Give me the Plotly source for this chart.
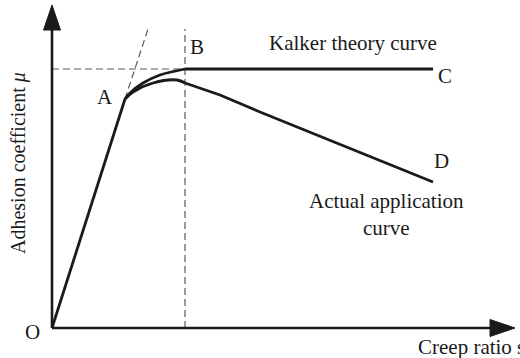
import plotly.graph_objects as go

# Schematic data (arbitrary units: creep ratio s, adhesion coefficient mu)
oa_s = [0.0, 0.73]
oa_mu = [0.0, 2.29]

kalker_curve_s = [0.73, 0.78, 0.91, 1.08, 1.33]
kalker_curve_mu = [2.29, 2.35, 2.45, 2.53, 2.59]
kalker_flat_s = [1.33, 3.81]
kalker_flat_mu = [2.59, 2.59]

actual_curve_s = [0.73, 0.81, 1.01, 1.25, 1.33]
actual_curve_mu = [2.29, 2.36, 2.45, 2.48, 2.45]
actual_line_s = [1.33, 1.68, 2.08, 3.81]
actual_line_mu = [2.45, 2.33, 2.16, 1.46]

tangent_s = [0.73, 0.96]
tangent_mu = [2.29, 2.99]
hdash_s = [0.0, 1.33]
hdash_mu = [2.59, 2.59]
vdash_s = [1.33, 1.33]
vdash_mu = [0.0, 2.99]

x_axis_end = 4.63
y_axis_end = 3.23

point_labels = ["O", "A", "B", "C", "D"]
point_s = [-0.20, 0.53, 1.45, 3.93, 3.89]
point_mu = [-0.04, 2.31, 2.81, 2.52, 1.67]

FONT = "Liberation Serif"
INK = "#1a1a1a"
DASH = "#5a5a5a"

fig = go.Figure()

def line(xs, ys, width=2.8, color=INK, dash=None, shape="linear"):
    fig.add_trace(go.Scatter(x=xs, y=ys, mode="lines", line_shape=shape,
                             line=dict(color=color, width=width, dash=dash),
                             hoverinfo="skip", showlegend=False))

# dashed guides
line(tangent_s, tangent_mu, width=1.2, color=DASH, dash="7px,4px")
line(hdash_s, hdash_mu, width=1.2, color=DASH, dash="7px,4px")
line(vdash_s, vdash_mu, width=1.2, color=DASH, dash="7px,4px")

# axes lines
ah = 0.25  # arrow head length
aw = 0.085  # arrow half width
line([0, x_axis_end - ah], [0, 0], width=2.6)
line([0, 0], [0, y_axis_end - ah], width=2.6)

# curves
line(oa_s, oa_mu)
line(kalker_curve_s, kalker_curve_mu, shape="spline")
line(kalker_flat_s, kalker_flat_mu)
line(actual_curve_s, actual_curve_mu, shape="spline")
line(actual_line_s, actual_line_mu)

# arrowheads
fig.add_shape(type="path", xref="x", yref="y",
              path=f"M {x_axis_end} 0 L {x_axis_end-ah} {aw} L {x_axis_end-ah} {-aw} Z",
              fillcolor=INK, line=dict(color=INK, width=1))
fig.add_shape(type="path", xref="x", yref="y",
              path=f"M 0 {y_axis_end} L {aw} {y_axis_end-ah} L {-aw} {y_axis_end-ah} Z",
              fillcolor=INK, line=dict(color=INK, width=1))

def text(x, y, t, size=21, **kw):
    fig.add_annotation(x=x, y=y, xref="x", yref="y", text=t, showarrow=False,
                       font=dict(family=FONT, size=size, color=INK), **kw)

for lab, s, m in zip(point_labels, point_s, point_mu):
    text(s, m, lab)

text(3.01, 2.85, "Kalker theory curve")
text(3.34, 1.14, "Actual application<br>curve")
text(3.64, -0.19, "Creep ratio s", xanchor="left")
text(-0.34, 1.65, "Adhesion coefficient <i>μ</i>", size=20, textangle=-90)

fig.update_layout(
    width=520, height=358,
    margin=dict(l=0, r=0, t=0, b=0),
    paper_bgcolor="white", plot_bgcolor="white",
    xaxis=dict(range=[-0.52, 4.68], visible=False, fixedrange=True),
    yaxis=dict(range=[-0.30, 3.28], visible=False, fixedrange=True),
)

fig.write_html("out.html", config={"displayModeBar": False},
               post_script="document.body.style.margin='0';")
